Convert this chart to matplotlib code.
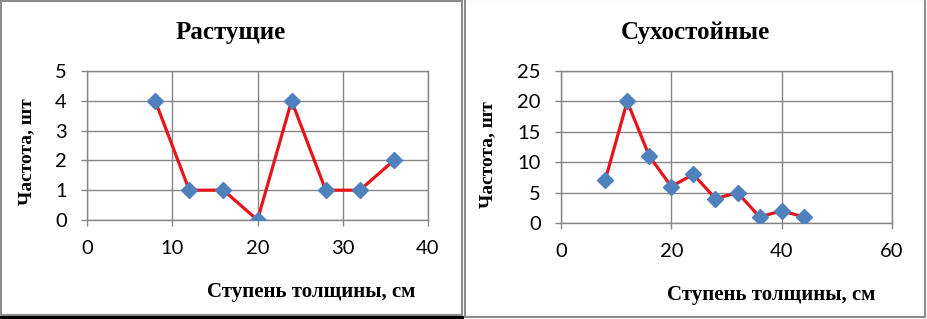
import matplotlib
matplotlib.use("Agg")
import matplotlib.pyplot as plt
from matplotlib.patches import Rectangle

# data
x_grow = [8, 12, 16, 20, 24, 28, 32, 36]
y_grow = [4, 1, 1, 0, 4, 1, 1, 2]
x_dry = [8, 12, 16, 20, 24, 28, 32, 36, 40, 44]
y_dry = [7, 20, 11, 6, 8, 4, 5, 1, 2, 1]

title_left = "Растущие"
title_right = "Сухостойные"
xlabel = "Ступень толщины, см"
ylabel = "Частота, шт"

W, H = 927, 319
fig = plt.figure(figsize=(W / 100, H / 100), dpi=100)

grid_c = "#868686"
serif = "Liberation Serif"
tick_font = "Lato"


def setup(ax, xmax, xstep, ymax, ystep):
    ax.set_xlim(0, xmax)
    ax.set_ylim(0, ymax)
    ax.set_xticks(range(0, xmax + 1, xstep))
    ax.set_yticks(range(0, ymax + 1, ystep))
    ax.grid(True, color=grid_c, linewidth=1)
    ax.set_axisbelow(True)
    for s in ax.spines.values():
        s.set_color(grid_c)
        s.set_linewidth(1)
    ax.tick_params(axis="both", colors=grid_c, length=4.5, width=1,
                   labelcolor="black", labelsize=14.5)
    ax.tick_params(axis="x", pad=10)
    ax.tick_params(axis="y", pad=10)
    for lab in ax.get_xticklabels() + ax.get_yticklabels():
        lab.set_fontfamily(tick_font)


def draw(ax, xs, ys):
    ax.plot(xs, ys, color="#e8141c", linewidth=2.3, zorder=3)
    ax.plot(xs, ys, linestyle="none", marker="D", markersize=8,
            color="#4f81bd", markeredgecolor="#4f81bd", zorder=4)


ax1 = fig.add_axes([87 / W, 1 - 220 / H, 341 / W, 149 / H])
draw(ax1, x_grow, y_grow)
setup(ax1, 40, 10, 5, 1)

ax2 = fig.add_axes([561 / W, 1 - 223 / H, 331 / W, 152 / H])
draw(ax2, x_dry, y_dry)
setup(ax2, 60, 20, 25, 5)

# titles and axis labels
fig.text(231 / W, 1 - 32 / H, title_left, ha="center", va="center",
         fontfamily=serif, fontweight="bold", fontsize=18)
fig.text(695 / W, 1 - 32 / H, title_right, ha="center", va="center",
         fontfamily=serif, fontweight="bold", fontsize=18)
fig.text(311 / W, 1 - 292 / H, xlabel, ha="center", va="center",
         fontfamily=serif, fontweight="bold", fontsize=15)
fig.text(771 / W, 1 - 295 / H, xlabel, ha="center", va="center",
         fontfamily=serif, fontweight="bold", fontsize=15)
fig.text(27 / W, 1 - 152 / H, ylabel, ha="center", va="center", rotation=90,
         fontfamily=serif, fontweight="bold", fontsize=14)
fig.text(488 / W, 1 - 155 / H, ylabel, ha="center", va="center", rotation=90,
         fontfamily=serif, fontweight="bold", fontsize=14)

# panel frames
fig.patches.append(Rectangle((1 / W, 4 / H), 461 / W, 314 / H, transform=fig.transFigure,
                             fill=False, edgecolor="#8c8c8c", linewidth=1.5))
fig.patches.append(Rectangle((0, 0), 464 / W, 3 / H, transform=fig.transFigure,
                             facecolor="black", edgecolor="none"))
fig.patches.append(Rectangle((465 / W, 2 / H), 460 / W, 318 / H, transform=fig.transFigure,
                             fill=False, edgecolor="#8c8c8c", linewidth=1.5))

fig.savefig("out.png", dpi=100, facecolor="white")
